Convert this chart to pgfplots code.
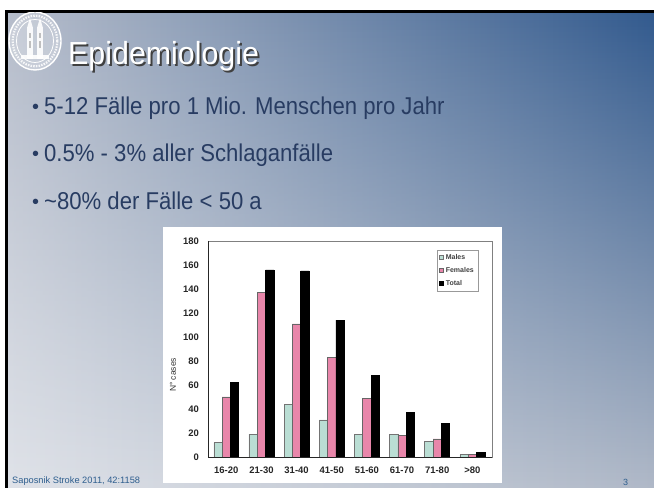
\documentclass[border=0pt]{standalone}
\usepackage{fontspec}
\setmainfont{Liberation Sans}
\usepackage{pgfplots}
\pgfplotsset{compat=1.18}
\usetikzlibrary{fadings}
\definecolor{txt}{RGB}{40,60,98}
\definecolor{foot}{RGB}{46,94,142}
\definecolor{malec}{RGB}{186,222,212}
\definecolor{femc}{RGB}{232,134,170}
\definecolor{bgTL}{RGB}{182,189,203}
\definecolor{bgTR}{RGB}{50,90,142}
\definecolor{bgBL}{RGB}{224,227,233}
\definecolor{bgBR}{RGB}{176,185,200}
\tikzfading[name=fadeup, top color=transparent!0, middle color=transparent!40, bottom color=transparent!100]
\begin{document}
\begin{tikzpicture}[x=1bp,y=1bp]
\useasboundingbox (0,0) rectangle (654,488);
\fill[white] (0,0) rectangle (654,488);
\shade[left color=bgBL, right color=bgBR] (6,0) rectangle (654,477);
\shade[left color=bgTL, right color=bgTR, path fading=fadeup] (6,0) rectangle (654,477);
\fill[black] (5,0) rectangle (8,478);
\fill[black] (5,475.3) rectangle (654,478);
% logo
\begin{scope}
\clip (8,0) rectangle (654,475);
\fill[white, opacity=0.25] (35,447) ellipse (26 and 29);
\draw[white, line width=1.4] (35,447) ellipse (26 and 29);
\draw[white, line width=0.8] (35,447) ellipse (18.5 and 21.5);
\draw[white, line width=2.2, dash pattern=on 1.5 off 1.2, opacity=0.85] (35,447) ellipse (22.3 and 25.3);
\fill[white, opacity=0.9] (27,429) rectangle (33,460);
\fill[white, opacity=0.9] (37,429) rectangle (43,460);
\fill[white, opacity=0.9] (27,460) -- (30,470) -- (33,460) -- cycle;
\fill[white, opacity=0.9] (37,460) -- (40,470) -- (43,460) -- cycle;
\fill[white, opacity=0.9] (21,429) rectangle (49,433);
\fill[gray!50] (29,440) rectangle (31,447);
\fill[gray!50] (39,440) rectangle (41,447);
\fill[gray!50] (29,450) rectangle (31,455);
\fill[gray!50] (39,450) rectangle (41,455);
\end{scope}
% title with shadow in one node
\node[anchor=base west, inner sep=0, font=\fontsize{30.5}{31}\selectfont] at (68,423)
  {\rlap{\kern2bp\raisebox{-2bp}{\textcolor{black!75}{\scalebox{1}[1.05]{Epidemiologie}}}}\textcolor{white}{\scalebox{1}[1.05]{Epidemiologie}}};
% bullets
\foreach \yy/\tt in {373/{5-12 Fälle pro 1 Mio. Menschen pro Jahr}, 326/{0.5\% - 3\% aller Schlaganfälle}, 278/{\char`\~80\% der Fälle < 50 a}}{
  \node[anchor=base west, inner sep=0, text=txt, font=\fontsize{20}{24}\selectfont] at (32,\yy+1) {\textbullet};
  \node[anchor=base west, inner sep=0, text=txt, font=\fontsize{22.2}{24}\selectfont] at (44,\yy) {\scalebox{1}[1.1]{\tt}};
}
% footer
\node[anchor=base west, inner sep=0, text=foot, font=\fontsize{9.3}{10}\selectfont] at (12,4) {Saposnik Stroke 2011, 42:1158};
\node[anchor=base west, inner sep=0, text=foot, font=\fontsize{9}{10}\selectfont] at (623,2) {3};
% chart box
\fill[white] (163,5) rectangle (502,261);
\begin{axis}[at={(208bp,31bp)}, anchor=south west, scale only axis,
  width=284bp, height=216bp,
  xmin=-0.52, xmax=7.56, ymin=0, ymax=180,
  ytick={0,20,...,180}, xtick={0,...,7},
  xticklabels={16-20,21-30,31-40,41-50,51-60,61-70,71-80,>80},
  major tick length=0pt,
  axis line style={draw=black!50, line width=0.7bp},
  /pgf/number format/assume math mode=true,
  ticklabel style={font=\fontsize{9.5}{10}\selectfont\bfseries, text=black!85},
  yticklabel style={xshift=-5.5bp},
  xticklabel style={yshift=-6bp},
  ylabel={N° cases},
  every axis y label/.style={at={(rel axis cs:0,0.38)}, xshift=-35bp, rotate=90, anchor=center, font=\fontsize{8.5}{9}\selectfont, text=black!80},
  clip=false,
  legend style={at={(1,1)}, anchor=north east, xshift=-14bp, yshift=-9bp, draw=black!40, line width=0.5bp,
    font=\fontsize{7}{8}\selectfont\bfseries, text=black!75, inner xsep=2bp, inner ysep=2bp,
    row sep=2.5bp, cells={anchor=west}},
  legend image code/.code={\draw[#1, line width=0.4bp] (0bp,-2bp) rectangle (4bp,2bp);},
]
\addplot[ybar, bar width=8.3bp, bar shift=-8.3bp, fill=malec, draw=black!55, line width=0.5bp]
  coordinates {(0,12) (1,19) (2,44) (3,31) (4,19) (5,19) (6,13) (7,2)};
\addlegendentry{Males}
\addplot[ybar, bar width=8.3bp, bar shift=0bp, fill=femc, draw=black!60, line width=0.5bp]
  coordinates {(0,50) (1,137) (2,111) (3,83) (4,49) (5,18) (6,15) (7,2)};
\addlegendentry{Females}
\addplot[ybar, bar width=8.3bp, bar shift=8.3bp, fill=black, draw=black, line width=0.5bp]
  coordinates {(0,62) (1,156) (2,155) (3,114) (4,68) (5,37) (6,28) (7,4)};
\addlegendentry{Total}
\draw[black!85, line width=0.9bp] (rel axis cs:0,1) -- (rel axis cs:0,0) -- (rel axis cs:1,0);
\end{axis}
\end{tikzpicture}
\end{document}
